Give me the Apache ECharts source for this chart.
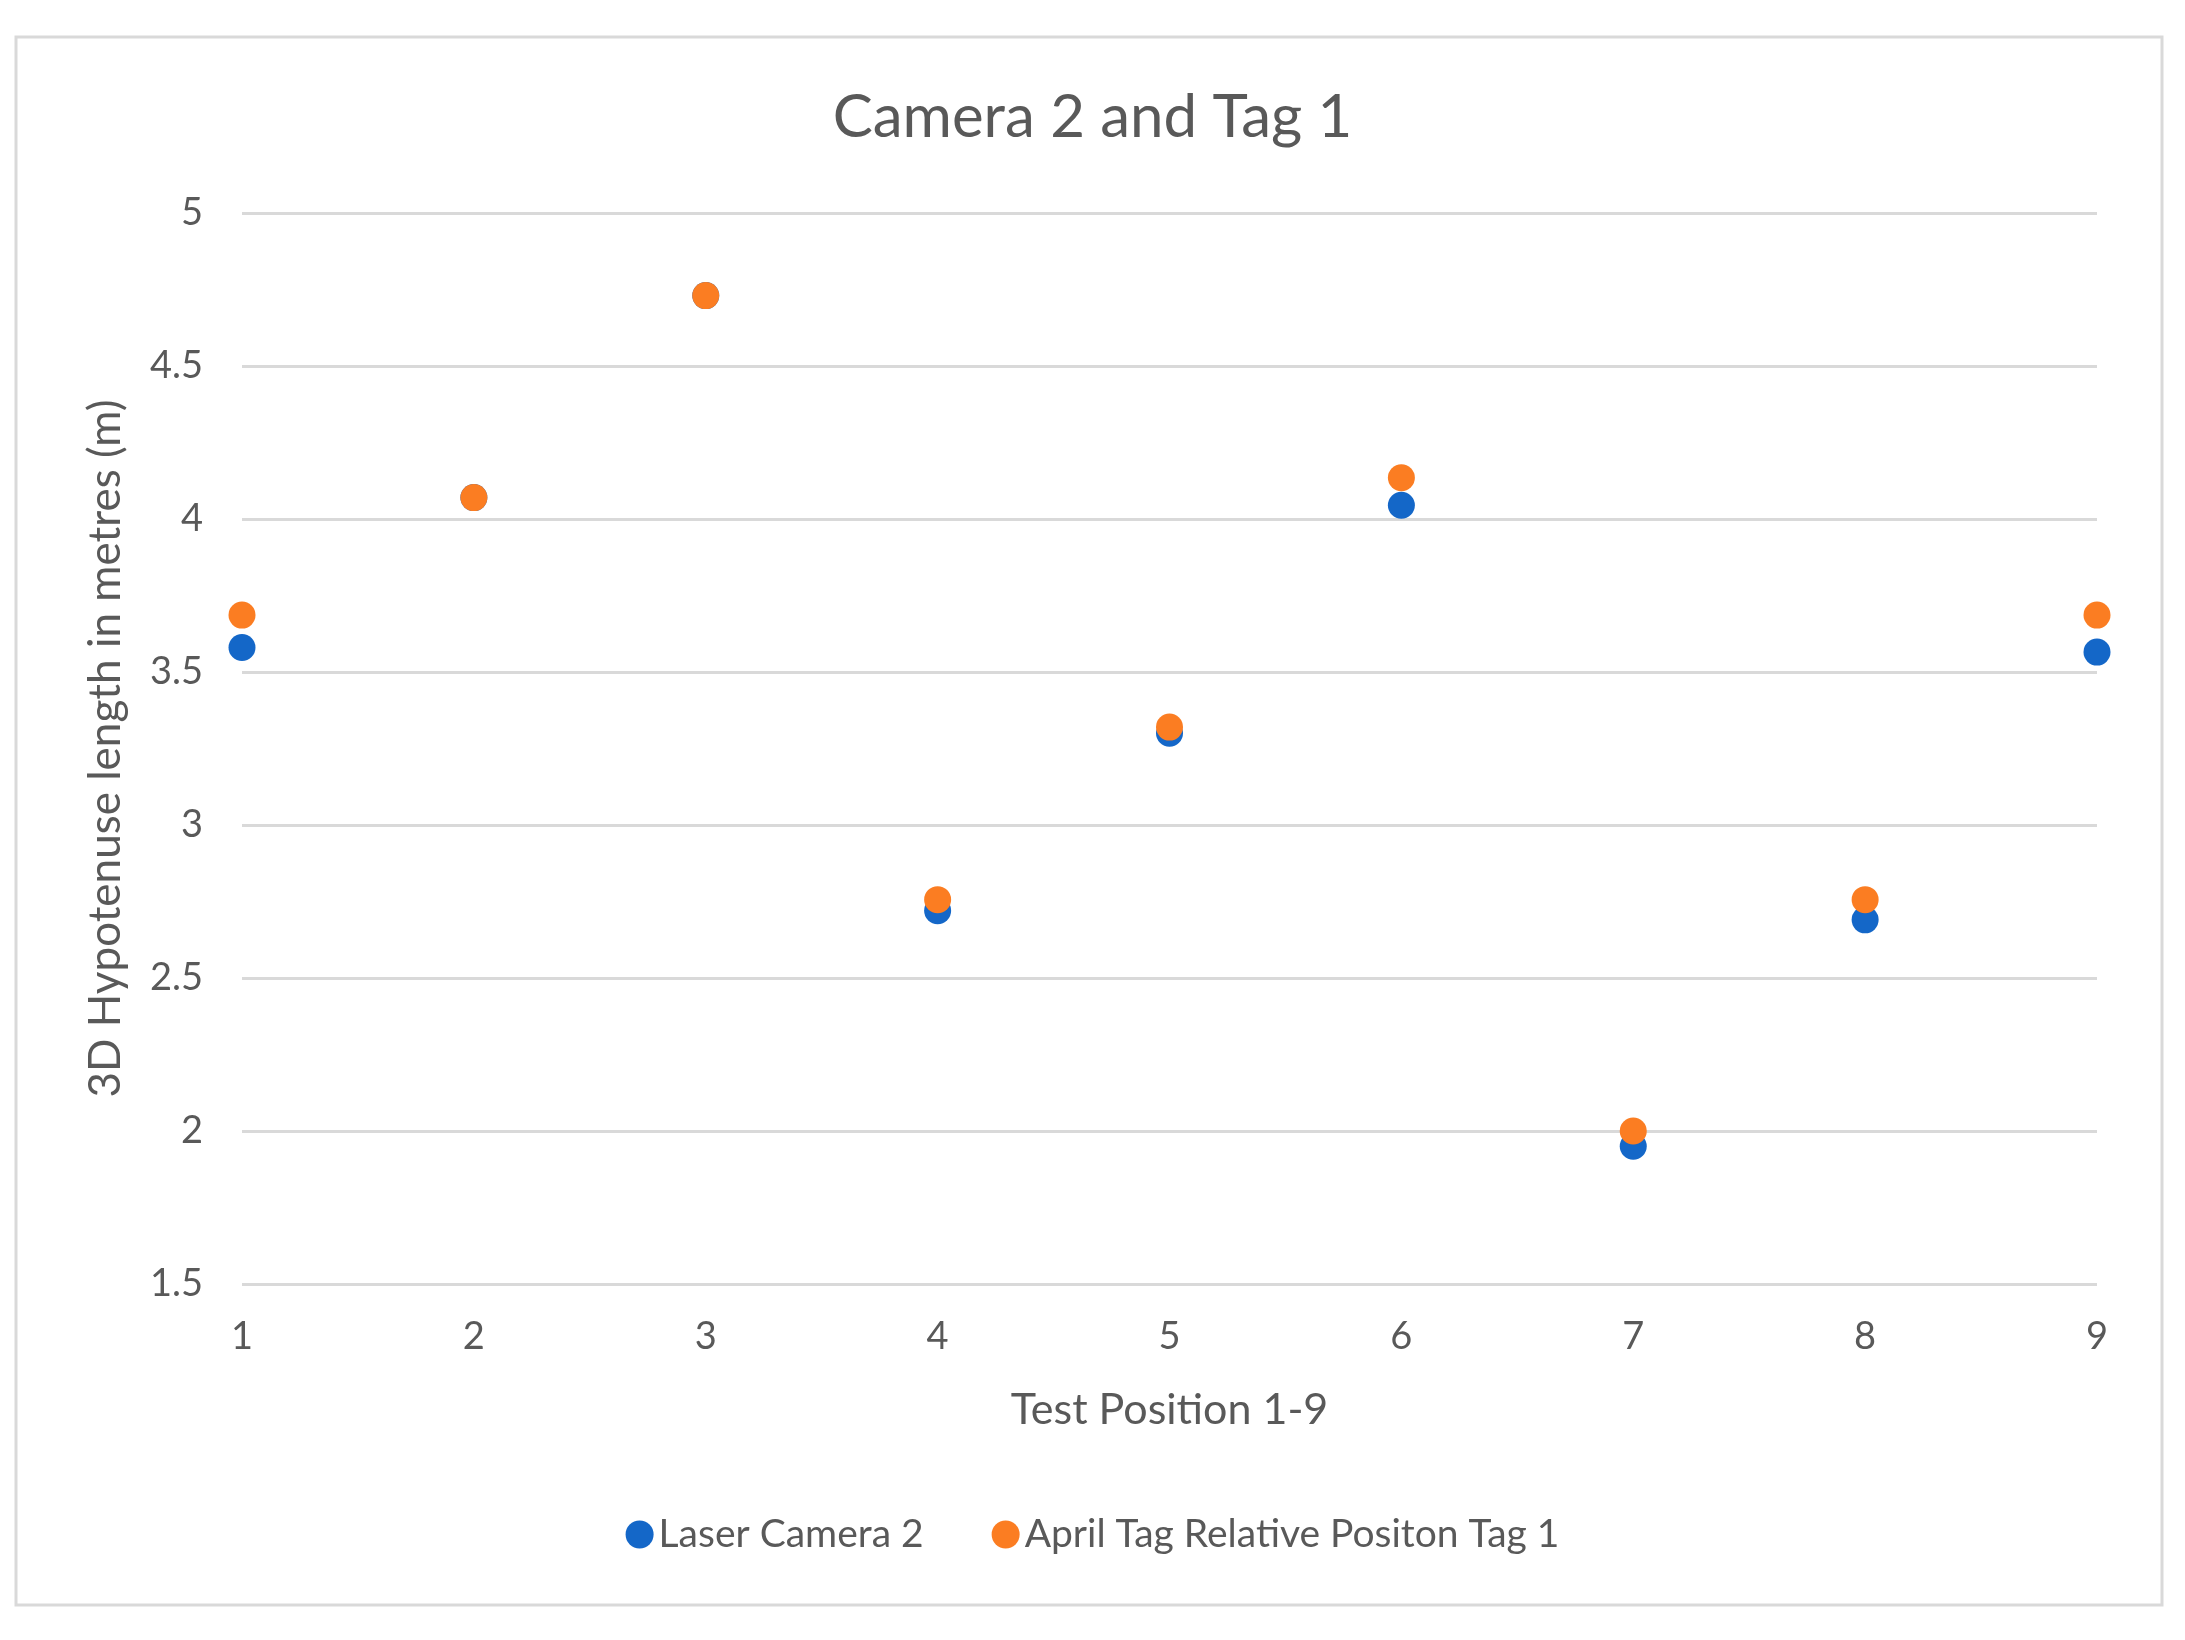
<!DOCTYPE html>
<html>
<head>
<meta charset="utf-8">
<title>Camera 2 and Tag 1</title>
<script src="https://cdn.jsdelivr.net/npm/echarts@6/dist/echarts.min.js"></script>
<style>
  html, body { margin: 0; padding: 0; background: #fff; }
  #chart { width: 2185px; height: 1640px; }
</style>
</head>
<body>
<div id="chart"></div>
<script>
  // test positions 1-9
  var positions = [1, 2, 3, 4, 5, 6, 7, 8, 9];
  // laser measured hypotenuse (m)
  var laserCamera2 = [3.58, 4.07, 4.73, 2.72, 3.30, 4.045, 1.95, 2.69, 3.565];
  // april tag relative position (m)
  var aprilTag1 = [3.686, 4.07, 4.73, 2.756, 3.32, 4.135, 2.0, 2.756, 3.686];
  var yTicks = [1.5, 2, 2.5, 3, 3.5, 4, 4.5, 5];

  var txt = '#595959';
  var font = 'Lato';

  function pairs(ys) {
    return positions.map(function (x, i) { return [x, ys[i]]; });
  }

  var myChart = echarts.init(document.getElementById('chart'));
  myChart.setOption({
    backgroundColor: '#fff',
    animation: false,
    title: {
      text: 'Camera 2 and Tag 1',
      left: 'center',
      top: 83,
      textStyle: { fontFamily: font, fontSize: 60, fontWeight: 'normal', color: txt }
    },
    graphic: [{
      type: 'rect',
      shape: { x: 16, y: 37, width: 2146, height: 1568 },
      style: { fill: 'none', stroke: '#d9d9d9', lineWidth: 3 },
      silent: true
    }],
    legend: {
      bottom: 81,
      left: 'center',
      itemWidth: 28,
      itemHeight: 28,
      itemGap: 68,
      icon: 'circle',
      textStyle: { fontFamily: font, fontSize: 39, color: txt },
      data: ['Laser Camera 2', 'April Tag Relative Positon Tag 1']
    },
    grid: { left: 242, right: 88, top: 213, bottom: 356 },
    xAxis: {
      type: 'value',
      min: positions[0],
      max: positions[positions.length - 1],
      interval: 1,
      name: 'Test Position 1-9',
      nameLocation: 'middle',
      nameGap: 105,
      nameTextStyle: { fontFamily: font, fontSize: 43, color: txt },
      axisLine: { show: false },
      axisTick: { show: false },
      splitLine: { show: false },
      axisLabel: { fontFamily: font, fontSize: 38, color: txt, margin: 34 }
    },
    yAxis: {
      type: 'value',
      min: yTicks[0],
      max: yTicks[yTicks.length - 1],
      interval: 0.5,
      name: '3D Hypotenuse length in metres (m)',
      nameLocation: 'middle',
      nameGap: 114,
      nameTextStyle: { fontFamily: font, fontSize: 44, color: txt },
      axisLine: { show: false },
      axisTick: { show: false },
      splitLine: { lineStyle: { color: '#d9d9d9', width: 3 } },
      axisLabel: { fontFamily: font, fontSize: 38, color: txt, margin: 39 }
    },
    series: [
      {
        name: 'Laser Camera 2',
        type: 'scatter',
        symbolSize: 27,
        itemStyle: { color: '#1467c8', opacity: 1 },
        data: pairs(laserCamera2)
      },
      {
        name: 'April Tag Relative Positon Tag 1',
        type: 'scatter',
        symbolSize: 27,
        itemStyle: { color: '#fb7d22', opacity: 1 },
        data: pairs(aprilTag1)
      }
    ]
  });
</script>
</body>
</html>
